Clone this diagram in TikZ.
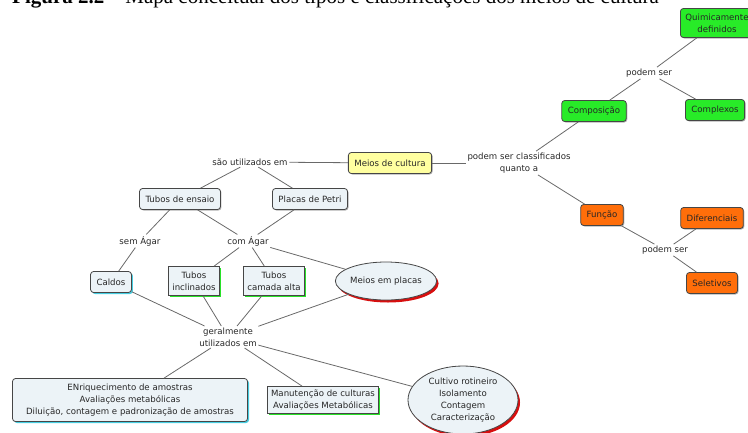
\documentclass[tikz,border=0pt]{standalone}
\usepackage{fontspec}
\setmainfont{Liberation Serif}
\newfontfamily\mapfont{DejaVu Sans}
\usetikzlibrary{shapes.geometric, shadows}
\definecolor{boxfill}{RGB}{236, 243, 247}
\definecolor{greenfill}{RGB}{40, 235, 40}
\definecolor{orangefill}{RGB}{255, 110, 10}
\definecolor{yellowfill}{RGB}{255, 255, 160}
\definecolor{mapline}{RGB}{105, 105, 105}
\definecolor{mapborder}{RGB}{70, 70, 70}
\definecolor{cyanshade}{RGB}{70, 205, 225}
\definecolor{greenshade}{RGB}{40, 225, 40}
\definecolor{redshade}{RGB}{215, 15, 15}

\begin{document}
\begin{tikzpicture}[
    x=1pt, y=-1pt,
    every node/.style={font=\mapfont\fontsize{8.6}{12}\selectfont, text=black!85},
    concept/.style={
        draw=mapborder,
        fill=#1fill,
        line width=0.8pt,
        rounded corners=3pt,
        inner xsep=6pt,
        inner ysep=2.5pt,
        minimum height=21pt,
        align=center,
        drop shadow={shadow xshift=1pt, shadow yshift=-1pt, fill=black, opacity=0.3},
    },
    cyanbox/.style={
        concept=box,
        drop shadow={shadow xshift=1.5pt, shadow yshift=-1.5pt, fill=cyanshade, opacity=1},
    },
    squarebox/.style={
        draw=mapborder,
        fill=boxfill,
        line width=0.8pt,
        inner xsep=3.5pt,
        inner ysep=2pt,
        minimum height=29pt,
        align=center,
        drop shadow={shadow xshift=1.5pt, shadow yshift=-1.5pt, fill=greenshade, opacity=1},
    },
    oval/.style={
        ellipse,
        draw=mapborder,
        fill=boxfill,
        line width=0.8pt,
        inner sep=0pt,
        align=center,
        drop shadow={shadow xshift=2pt, shadow yshift=-2.5pt, fill=redshade, opacity=1},
    },
    link/.style={inner sep=1.5pt, align=center},
    edge/.style={draw=mapline, line width=0.8pt},
]

% -- Frame of the picture
\useasboundingbox (0,0) rectangle (748,432);
\clip (0,0) rectangle (748,432);

% -- Caption, cut at the top
\node[anchor=base west, font=\rmfamily\fontsize{21}{24}\selectfont, text=black, inner sep=0pt] (caption) at (12,3)
    {\textbf{Figura 2.2}\quad Mapa conceitual dos tipos e classificações dos meios de cultura};

% -- Centre
\node[concept=yellow] (meios) at (390,163) {Meios de cultura};

% -- Classification branch
\node[link] (classif) at (519,163) {podem ser classificados\\quanto a};
\node[concept=green] (composicao) at (594,111) {Composição};
\node[link] (podem1) at (649,73) {podem ser};
\node[concept=green, anchor=west, minimum height=29pt, inner xsep=5pt] (quimica) at (680,23) {Quimicamente\\definidos};
\node[concept=green] (complexos) at (715,110) {Complexos};
\node[concept=orange] (funcao) at (602,215) {Função};
\node[link] (podem2) at (665,250) {podem ser};
\node[concept=orange] (diferenciais) at (712,218) {Diferenciais};
\node[concept=orange] (seletivos) at (712,283) {Seletivos};

% -- Use branch
\node[link] (usados) at (250,162) {são utilizados em};
\node[concept=box] (tubos) at (180,199) {Tubos de ensaio};
\node[concept=box] (placas) at (310,199) {Placas de Petri};
\node[link] (semagar) at (140,241) {sem Ágar};
\node[link] (comagar) at (248,241) {com Ágar};
\node[cyanbox] (caldos) at (111,282) {Caldos};
\node[squarebox] (inclinados) at (194,281) {Tubos\\inclinados};
\node[squarebox] (camada) at (274,281) {Tubos\\camada alta};
\node[oval, minimum width=92pt, minimum height=38pt] (emplacas) at (386,281) {Meios em placas};

% -- Common uses
\node[link] (geralmente) at (228,337) {geralmente\\utilizados em};
\node[cyanbox, minimum width=235pt, minimum height=43pt, inner sep=1pt] (enriq) at (130,400)
    {ENriquecimento de amostras\\Avaliações metabólicas\\Diluição, contagem e padronização de amostras};
\node[squarebox, minimum height=27pt] (manut) at (323,400) {Manutenção de culturas\\Avaliações Metabólicas};
\node[oval, minimum width=110pt, minimum height=68pt] (cultivo) at (463,400)
    {Cultivo rotineiro\\Isolamento\\Contagem\\Caracterização};

% ===== Connectors =====

% meios -> classification
\draw[edge] (meios) -- (classif);
\draw[edge] (classif) -- (composicao);
\draw[edge] (classif) -- (funcao);

% composicao -> types
\draw[edge] (composicao) -- (podem1);
\draw[edge] (podem1) -- (quimica);
\draw[edge] (podem1) -- (complexos);

% funcao -> types
\draw[edge] (funcao) -- (podem2);
\draw[edge] (podem2) -- (diferenciais);
\draw[edge] (podem2) -- (seletivos);

% meios -> containers
\draw[edge] (meios) -- (usados);
\draw[edge] (usados) -- (tubos);
\draw[edge] (usados) -- (placas);

% containers -> agar
\draw[edge] (tubos) -- (semagar);
\draw[edge] (semagar) -- (caldos);
\draw[edge] (tubos) -- (comagar);
\draw[edge] (placas) -- (comagar);
\draw[edge] (comagar) -- (inclinados);
\draw[edge] (comagar) -- (camada);
\draw[edge] (comagar) -- (emplacas);

% media -> uses
\draw[edge] (caldos) -- (geralmente);
\draw[edge] (inclinados) -- (geralmente);
\draw[edge] (camada) -- (geralmente);
\draw[edge] (emplacas) -- (geralmente);
\draw[edge] (geralmente) -- (enriq);
\draw[edge] (geralmente) -- (manut);
\draw[edge] (geralmente) -- (cultivo);

\end{tikzpicture}
\end{document}
